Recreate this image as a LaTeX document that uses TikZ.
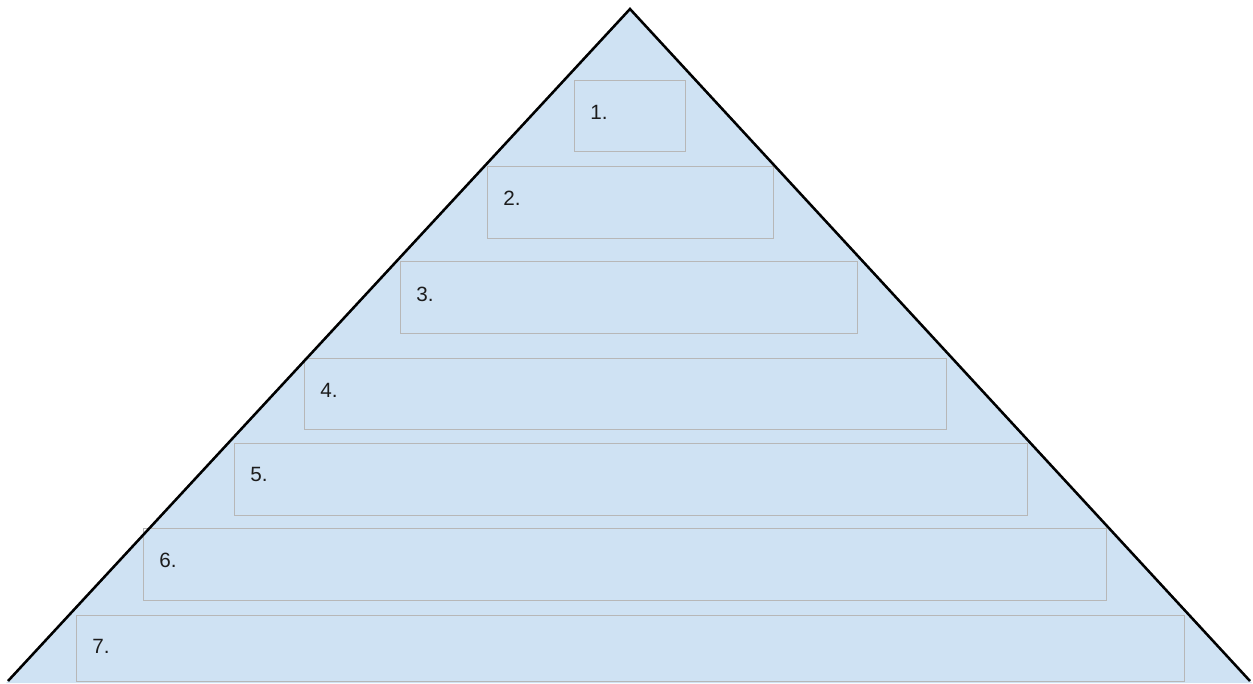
\documentclass[tikz,border=0pt]{standalone}
\usepackage{fontspec}
\setmainfont{Liberation Sans}
\definecolor{pyrfill}{HTML}{CFE2F3}
\definecolor{boxline}{HTML}{B7B7B7}
\definecolor{txt}{HTML}{1C1C1C}
\begin{document}
\begin{tikzpicture}[x=0.75pt,y=-0.75pt,
  box/.style={draw=boxline, line width=1pt, rectangle, inner sep=0pt, anchor=north west},
  lbl/.style={text=txt, font=\fontsize{15.5pt}{18pt}\selectfont, anchor=west, inner sep=0pt}]
\useasboundingbox (0,0) rectangle (1253,683);
% pyramid
\coordinate (apex) at (630,9);
\coordinate (bl) at (8,681);
\coordinate (br) at (1250,681);
\fill[pyrfill] (apex) -- (br) -- (1252,683) -- (6,683) -- (bl) -- cycle;
% boxes
\node[box, minimum width=111*0.75pt, minimum height=71*0.75pt] (b1) at (574,80) {};
\node[box, minimum width=286*0.75pt, minimum height=72*0.75pt] (b2) at (487,166) {};
\node[box, minimum width=457*0.75pt, minimum height=72*0.75pt] (b3) at (400,261) {};
\node[box, minimum width=642*0.75pt, minimum height=71*0.75pt] (b4) at (304,358) {};
\node[box, minimum width=793*0.75pt, minimum height=72*0.75pt] (b5) at (234,443) {};
\node[box, minimum width=963*0.75pt, minimum height=72*0.75pt] (b6) at (143,528) {};
\node[box, minimum width=1108*0.75pt, minimum height=66*0.75pt] (b7) at (76,615) {};
% labels
\node[lbl] (t1) at (590,112) {1.};
\node[lbl] (t2) at (503,198) {2.};
\node[lbl] (t3) at (416,294) {3.};
\node[lbl] (t4) at (320,390) {4.};
\node[lbl] (t5) at (250,474) {5.};
\node[lbl] (t6) at (159,560) {6.};
\node[lbl] (t7) at (92,646) {7.};
% pyramid sides
\draw[black, line width=1.9pt, line join=miter] (bl) -- (apex) -- (br);
\end{tikzpicture}
\end{document}
